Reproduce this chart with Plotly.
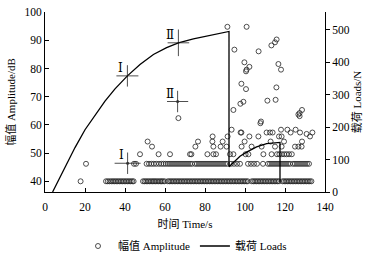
import plotly.graph_objects as go

# ---- Load curve (time s, load N) ----
load_t = [3.8, 10.0, 15.0, 20.0, 25.0, 30.0, 35.0, 41.2, 47.5, 54.2, 60.8, 66.7, 74.2, 82.5, 91.7,
          92.0, 92.0, 97.5, 100.8, 105.8, 110.8, 114.2, 117.5, 117.5]
load_n = [0, 78, 137, 192, 238, 280, 318, 358, 393, 424, 445, 460, 472, 482, 493,
          495, 78, 110, 123, 139, 149, 152, 153, 31]

# ---- Amplitude hits (time s, amplitude dB) ----
row40_t = [17.8,
           30.5, 31.4, 32.3, 33.2, 34.0, 34.8, 35.6, 36.4, 37.2, 38.0, 38.8, 39.6, 40.4, 41.2, 42.0, 42.8, 43.6, 44.3,
           49.0, 49.8, 50.6, 51.4, 52.2, 53.0, 53.8, 54.5, 55.2, 56.0, 56.8, 57.6, 58.3, 59.0, 59.8, 61.4,
           62.2, 63.0, 63.8, 64.6, 65.4, 66.2, 67.0, 67.8, 68.6, 69.4, 70.2, 71.0, 71.8, 72.6, 73.4, 74.2,
           75.0, 75.8, 76.6, 77.4, 78.2, 79.0, 79.8, 80.6, 81.4, 82.2, 83.0, 83.8, 84.6, 85.4, 86.2, 87.0,
           87.8, 88.6, 89.4, 90.2, 91.0, 91.8, 92.6, 93.4, 94.2, 95.0, 95.8, 96.6, 97.4, 98.2, 99.0, 99.8,
           100.6, 101.4, 103.4, 104.2, 105.0, 105.8, 106.6, 107.4, 108.2, 109.0, 109.8, 110.6, 111.4,
           112.2, 113.0, 113.8, 114.6, 115.4, 116.2, 117.0, 118.8, 119.6, 120.4, 121.2, 122.0, 122.8,
           123.6, 124.4, 125.2, 126.0, 126.8, 127.6, 128.4, 129.2, 130.0, 130.8, 131.6, 132.4, 133.2]
row46_t = [20.5, 44.5, 45.5,
           50.8, 52.0, 53.2, 54.4, 55.6, 57.0, 58.2, 59.3, 60.4, 61.5, 62.5, 63.5, 64.5, 65.5, 66.5,
           67.5, 68.5, 69.5, 70.5, 71.5, 72.5, 73.5, 75.0, 76.0, 77.0, 78.0, 79.0, 80.0, 81.0, 82.0,
           83.0, 84.0, 85.0, 86.0, 87.0, 88.0, 89.0, 90.0, 91.0, 93.0, 94.5, 96.0, 97.5, 101.5,
           103.0, 104.5, 106.0, 109.0, 111.5, 112.5, 113.5, 114.5, 115.5, 116.5, 117.5, 118.5, 119.5,
           120.5, 121.5, 122.5, 124.0, 125.0, 126.0, 127.0, 128.0, 129.0, 130.0, 131.0, 132.0]
row46_db = 46.2
row40_db = 40.0

other_t = [47.5, 56.8, 62.5, 72.5, 73.2, 81.2, 84.2, 85.5, 92.5, 94.2, 100.3, 101.7, 109.2, 113.3,
           116.0, 117.2, 118.4, 119.6, 120.8, 122.0, 123.4,
           53.5, 75.2, 84.2, 87.8, 90.8, 98.3, 103.3, 108.3, 115.0, 118.3, 125.0, 126.7, 128.3,
           51.3, 76.5, 83.7, 88.8, 99.8, 112.8, 119.5, 128.5,
           83.8, 91.3, 102.2, 106.7, 117.0, 118.3, 132.5,
           98.2, 110.8, 113.8, 127.5, 133.7, 97.8, 112.5, 122.8,
           93.3, 118.0, 121.2, 125.3, 130.8,
           108.0, 107.7, 94.2, 128.5, 127.3, 126.7, 127.3,
           99.2, 97.7, 111.2, 115.3, 98.2, 100.5, 115.7,
           99.7, 102.2, 100.8, 100.5, 116.7, 118.0,
           94.7, 106.8, 115.8, 115.0, 113.2, 91.2, 100.8, 66.7]
other_db = [49.6, 49.6, 49.6, 49.6, 49.6, 49.6, 49.6, 49.6, 49.6, 49.6, 49.6, 49.6, 49.6, 49.6,
            49.6, 49.6, 49.6, 49.6, 49.6, 49.6, 49.6,
            52.3, 52.3, 52.3, 52.3, 52.3, 52.3, 52.3, 52.3, 52.3, 52.3, 52.3, 52.3, 52.3,
            54.1, 54.1, 54.1, 54.1, 54.1, 54.1, 54.1, 54.1,
            55.9, 55.9, 55.9, 55.9, 55.9, 55.9, 55.9,
            57.3, 57.3, 57.3, 57.3, 57.3, 57.3, 57.3, 57.3,
            58.3, 58.3, 58.3, 58.3, 56.8,
            61.2, 60.6, 65.3, 65.3, 64.2, 63.7, 63.1,
            68.2, 67.5, 68.6, 68.9, 74.6, 72.7, 73.3,
            82.2, 80.6, 79.6, 79.0, 81.6, 79.6,
            86.7, 86.1, 90.3, 89.3, 88.2, 94.8, 94.8, 62.4]

amp_t = row40_t + row46_t + other_t
amp_db = [row40_db] * len(row40_t) + [row46_db] * len(row46_t) + other_db

# ---- Stage markers (crosses) ----
amp_cross_t = [41.3, 66.3]
amp_cross_db = [46.4, 68.3]
amp_cross_dt = [6.5, 5.3]
amp_cross_ddb = [3.8, 3.8]
amp_cross_lab = ["Ⅰ", "Ⅱ"]

load_cross_t = [41.2, 66.7]
load_cross_n = [358, 460]
load_cross_dt = [5.5, 5.4]
load_cross_dn = [33, 41]
load_cross_lab = ["Ⅰ", "Ⅱ"]

x_ticks = [0, 20, 40, 60, 80, 100, 120, 140]
y_ticks = [40, 50, 60, 70, 80, 90, 100]
y2_ticks = [0, 100, 200, 300, 400, 500]

FONT = "Liberation Serif, Times New Roman, Noto Sans CJK SC, serif"

fig = go.Figure()
fig.add_trace(go.Scatter(
    x=amp_t, y=amp_db, mode="markers", name="幅值 Amplitude",
    marker=dict(symbol="circle-open", size=5, color="#222", line=dict(width=0.8, color="#222")),
))
fig.add_trace(go.Scatter(
    x=load_t, y=load_n, mode="lines", name="载荷 Loads", yaxis="y2",
    line=dict(color="black", width=1.3),
))
fig.add_trace(go.Scatter(
    x=amp_cross_t, y=amp_cross_db, mode="markers", showlegend=False,
    marker=dict(symbol="circle", size=3, color="#333"),
    error_x=dict(type="data", array=amp_cross_dt, width=0, thickness=0.8, color="#222"),
    error_y=dict(type="data", array=amp_cross_ddb, width=0, thickness=0.8, color="#222"),
))
fig.add_trace(go.Scatter(
    x=load_cross_t, y=load_cross_n, mode="markers", showlegend=False, yaxis="y2",
    marker=dict(symbol="circle", size=1, color="black"),
    error_x=dict(type="data", array=load_cross_dt, width=0, thickness=0.8, color="#222"),
    error_y=dict(type="data", array=load_cross_dn, width=0, thickness=0.8, color="#222"),
))

anns = []
for t, v, lab in zip(amp_cross_t, amp_cross_db, amp_cross_lab):
    anns.append(dict(x=t, y=v, xref="x", yref="y", text=lab, showarrow=False,
                     xanchor="right", yanchor="bottom", xshift=-2, yshift=-1,
                     font=dict(family="DejaVu Serif, serif", size=12, color="black")))
for t, v, lab in zip(load_cross_t, load_cross_n, load_cross_lab):
    anns.append(dict(x=t, y=v, xref="x", yref="y2", text=lab, showarrow=False,
                     xanchor="right", yanchor="bottom", xshift=-2, yshift=-1,
                     font=dict(family="DejaVu Serif, serif", size=12, color="black")))

axis_common = dict(showline=True, linecolor="black", linewidth=1, showgrid=False, zeroline=False,
                   ticklen=4, tickcolor="black", tickwidth=1, automargin=False,
                   ticklabeloverflow="allow",
                   tickfont=dict(family=FONT, size=11.5, color="black"))

fig.update_layout(
    width=369, height=257,
    margin=dict(l=45, r=44, t=12, b=65, autoexpand=False),
    plot_bgcolor="white", paper_bgcolor="white",
    font=dict(family=FONT, size=11, color="black"),
    xaxis=dict(range=[0, 140], tickvals=x_ticks, ticks="inside", ticklabelstandoff=4,
               title=dict(text="时间 Time/s", font=dict(family=FONT, size=11), standoff=8),
               **axis_common),
    yaxis=dict(range=[36.2, 100.05], tickvals=y_ticks, ticks="inside",
               title=dict(text="幅值 Amplitude/dB", font=dict(family=FONT, size=11), standoff=6),
               **axis_common),
    yaxis2=dict(range=[0, 555], tickvals=y2_ticks, ticks="outside", overlaying="y", side="right",
                title=dict(text="载荷 Loads/N", font=dict(family=FONT, size=11), standoff=4),
                **axis_common),
    showlegend=True,
    legend=dict(orientation="h", x=0.5, xanchor="center", y=-0.30, yanchor="middle",
                font=dict(family=FONT, size=11, color="black"), bgcolor="rgba(0,0,0,0)",
                itemwidth=30),
    annotations=anns,
)

# remove the default 8 px page margin so the figure fills the window exactly; hide the modebar
fig.write_html("out.html", config={"displayModeBar": False},
               post_script="document.body.style.margin='0';")
